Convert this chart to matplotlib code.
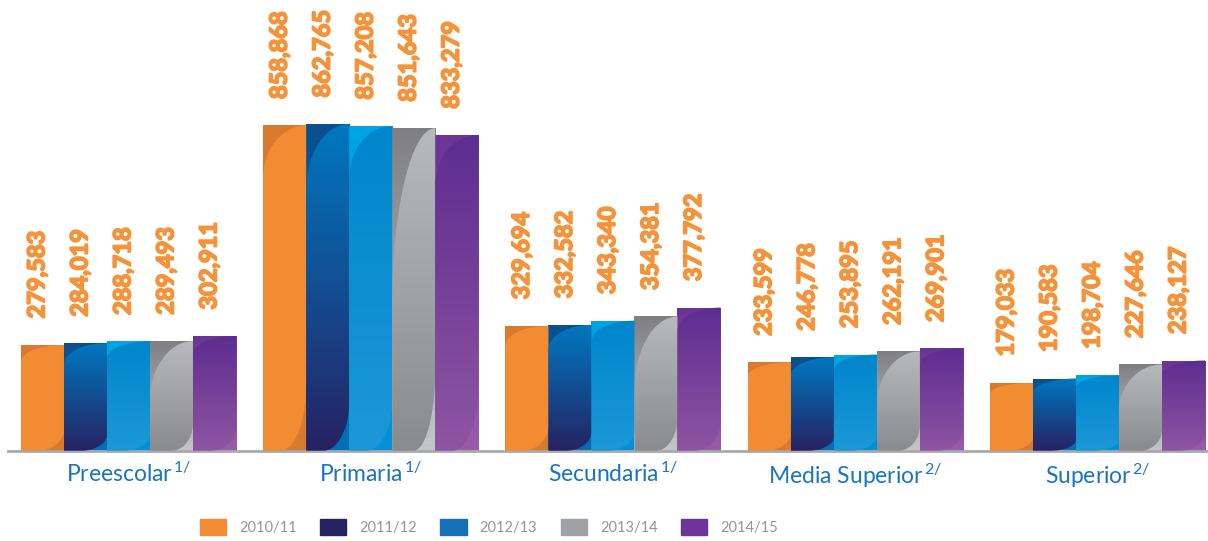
import numpy as np
import matplotlib.pyplot as plt
import matplotlib.patheffects as pe
from matplotlib.colors import LinearSegmentedColormap
from matplotlib.patches import Rectangle, PathPatch
from matplotlib.path import Path

plt.rcParams['font.family'] = ['Lato', 'DejaVu Sans']
plt.rcParams['mathtext.fontset'] = 'custom'
plt.rcParams['mathtext.rm'] = 'Lato'
plt.rcParams['mathtext.it'] = 'Lato:italic'
plt.rcParams['mathtext.bf'] = 'Lato:bold'

# datos
niveles = ['Preescolar', 'Primaria', 'Secundaria', 'Media Superior', 'Superior']
notas = ['1/', '1/', '1/', '2/', '2/']
ciclos = ['2010/11', '2011/12', '2012/13', '2013/14', '2014/15']
v_2010 = [279583, 858868, 329694, 233599, 179033]
v_2011 = [284019, 862765, 332582, 246778, 190583]
v_2012 = [288718, 857208, 343340, 253895, 198704]
v_2013 = [289493, 851643, 354381, 262191, 227646]
v_2014 = [302911, 833279, 377792, 269901, 238127]
series = [v_2010, v_2011, v_2012, v_2013, v_2014]

# estilo: color leyenda, base arriba/abajo, relleno arriba/abajo, curva (ry1, rx2, ry2)
estilos = [
    ('#F28C33', '#D97A2E', '#D97A2E', '#F28C33', '#F28C33', (0.16, 0.6, 0.2)),
    ('#262262', '#0A4F8F', '#0070B5', '#0078C0', '#262262', (0.2, 0.6, 0.15)),
    ('#1570B5', '#00A5E3', '#0090D5', '#0086CC', '#1B98D8', (0.16, 0.6, 0.15)),
    ('#A0A1A5', '#808084', '#C5C6C9', '#B8B9BC', '#8A8B8F', (0.55, 0.5, 0.25)),
    ('#6A3596', '#6A3595', '#9A5CA8', '#5E2D91', '#8E55A2', (0.16, 0.6, 0.2)),
]

fig = plt.figure(figsize=(12.08, 5.41), dpi=100)
ax = fig.add_axes([8 / 1208, 90.3 / 541, 1200 / 1208, 450.7 / 541])

x = np.arange(len(niveles))
w = 0.1775


def gradiente(x0, x1, y0, y1, c_top, c_bottom, clip, z):
    cmap = LinearSegmentedColormap.from_list('g', [c_bottom, c_top])
    grad = np.linspace(0, 1, 256).reshape(-1, 1)
    im = ax.imshow(grad, cmap=cmap, extent=(x0, x1, y0, y1), origin='lower',
                   aspect='auto', zorder=z, interpolation='bilinear')
    im.set_clip_path(clip)


def relleno(x0, x1, h, ry1, rx2, ry2):
    rx1 = x1 - x0
    ry1, rx2, ry2 = ry1 * h, rx2 * (x1 - x0), ry2 * h
    pts = [(x0, 0), (x1 - rx2, 0)]
    for t in np.linspace(-np.pi / 2, 0, 30):
        pts.append((x1 - rx2 + rx2 * np.cos(t), ry2 + ry2 * np.sin(t)))
    for t in np.linspace(np.pi / 2, np.pi, 30):
        pts.append((x1 + rx1 * np.cos(t), h - ry1 + ry1 * np.sin(t)))
    pts.append((x0, 0))
    return Path(pts, closed=True)


grueso = [pe.withStroke(linewidth=1.3, foreground='#F4933A')]

for j, (vals, est) in enumerate(zip(series, estilos)):
    leg, b_top, b_bot, o_top, o_bot, curva = est
    bars = ax.bar(x + (j - 2) * w, vals, width=w, color=b_top, linewidth=0, zorder=1)
    for bar, v in zip(bars, vals):
        x0 = bar.get_x()
        x1 = x0 + bar.get_width()
        h = bar.get_height()
        gradiente(x0, x1, 0, h, b_top, b_bot, bar, 2)
        pp = PathPatch(relleno(x0, x1, h, *curva), facecolor='none', lw=0)
        ax.add_patch(pp)
        gradiente(x0, x1, 0, h, o_top, o_bot, pp, 3)
        ax.annotate(f'{v:,}', xy=(x0 + w / 2, h), xytext=(-4, 19),
                    textcoords='offset points', rotation=90, ha='center', va='bottom',
                    fontsize=17, fontweight='bold', color='#F4933A', family='Lato',
                    path_effects=grueso)

ax.set_xlim(-0.497, 4.456)
ax.set_ylim(0, 1190100)

for s in ['top', 'left', 'right']:
    ax.spines[s].set_visible(False)
ax.spines['bottom'].set_color('#A7A9AC')
ax.spines['bottom'].set_linewidth(2)
ax.set_yticks([])
ax.set_xticks(x)
ax.set_xticklabels([f'{n}' + r'$^{\,\mathregular{' + nt + '}}$' for n, nt in zip(niveles, notas)],
                   fontsize=16.5, color='#1C75BC')
ax.tick_params(axis='x', length=0, pad=8)

handles = [Rectangle((0, 0), 1, 1, color=e[0]) for e in estilos]
fig.legend(handles, ciclos, ncol=5, loc='center', bbox_to_anchor=(489 / 1208, 14 / 541),
           frameon=False, fontsize=10.5, handlelength=1.8, handleheight=1.35,
           handletextpad=0.9, columnspacing=1.6, labelcolor='#939598')

fig.savefig('out.png', dpi=100)
